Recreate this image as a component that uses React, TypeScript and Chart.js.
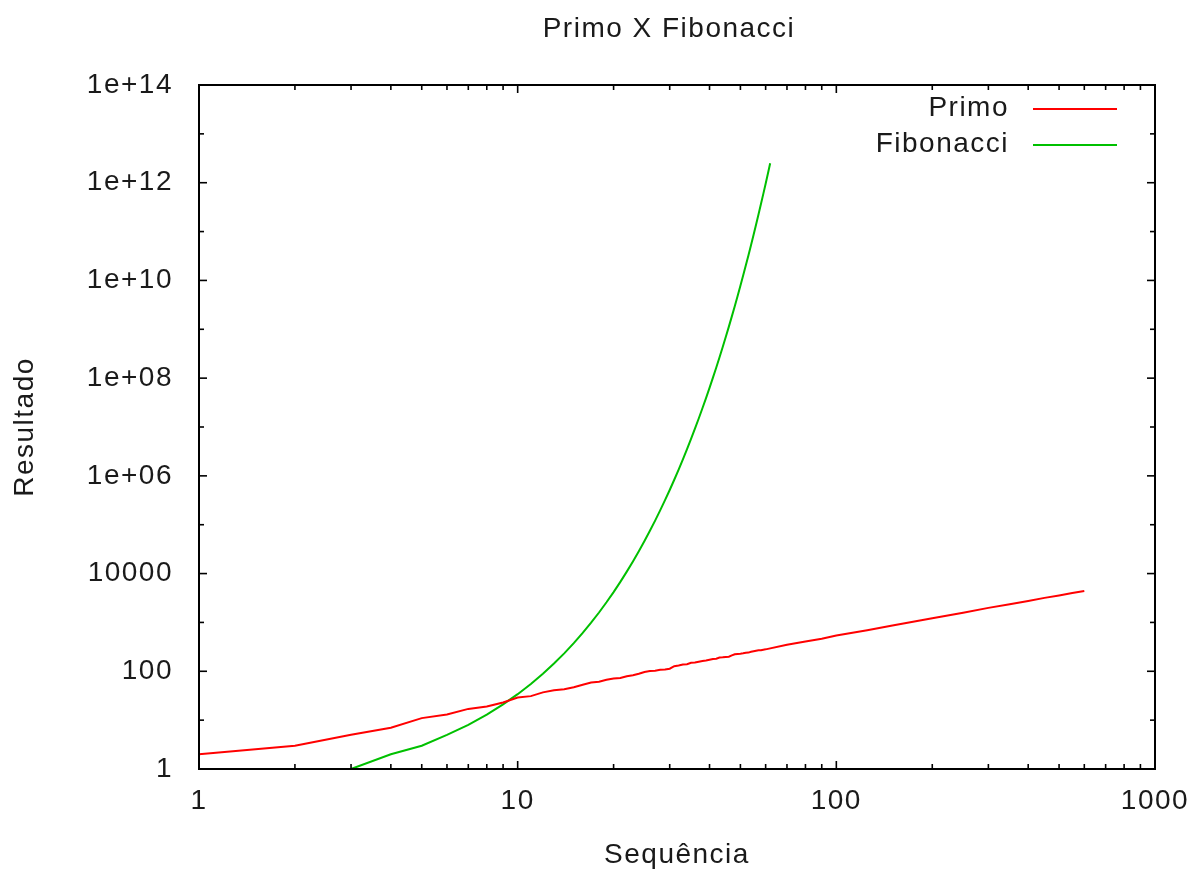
import { useEffect, useRef } from 'react';
import { Chart, registerables } from 'chart.js';

Chart.register(...registerables);

// ---------- data ----------
const chartTitle = 'Primo X Fibonacci';
const xAxisTitle = 'Sequência';
const yAxisTitle = 'Resultado';
const seriesLabels = ['Primo', 'Fibonacci'];
const seriesColors = ['#ff0000', '#00c000'];

const xTickValues = [1, 10, 100, 1000];
const xTickLabels = ['1', '10', '100', '1000'];
const yTickValues = [1, 1e2, 1e4, 1e6, 1e8, 1e10, 1e12, 1e14];
const yTickLabels = ['1', '100', '10000', '1e+06', '1e+08', '1e+10', '1e+12', '1e+14'];

const primoN = [
  1, 2, 3, 4, 5, 6, 7, 8, 9, 10, 11, 12, 13, 14, 15, 16, 17, 18, 19, 20,
  21, 22, 23, 24, 25, 26, 27, 28, 29, 30, 31, 32, 33, 34, 35, 36, 37, 38, 39, 40,
  41, 42, 43, 44, 45, 46, 47, 48, 49, 50, 51, 52, 53, 54, 55, 56, 57, 58, 59, 60,
  70, 80, 90, 100, 125, 150, 200, 250, 300, 350, 400, 450, 500, 550, 600,
];
const primoValues = [
  2, 3, 5, 7, 11, 13, 17, 19, 23, 29, 31, 37, 41, 43, 47, 53, 59, 61, 67, 71,
  73, 79, 83, 89, 97, 101, 103, 107, 109, 113, 127, 131, 137, 139, 149, 151, 157, 163, 167, 173,
  179, 181, 191, 193, 197, 199, 211, 223, 227, 229, 233, 239, 241, 251, 257, 263, 269, 271, 277, 281,
  349, 409, 463, 541, 691, 863, 1223, 1583, 1987, 2357, 2741, 3181, 3571, 3989, 4409,
];

const fibN = [
  3, 4, 5, 6, 7, 8, 9, 10, 11, 12, 13, 14, 15, 16, 17, 18, 19, 20,
  21, 22, 23, 24, 25, 26, 27, 28, 29, 30, 31, 32, 33, 34, 35, 36, 37, 38, 39, 40,
  41, 42, 43, 44, 45, 46, 47, 48, 49, 50, 51, 52, 53, 54, 55, 56, 57, 58, 59, 60,
  61, 62,
];
const fibValues = [
  1, 2, 3, 5, 8, 13, 21, 34, 55, 89, 144, 233, 377, 610, 987, 1597, 2584, 4181,
  6765, 10946, 17711, 28657, 46368, 75025, 121393, 196418, 317811, 514229, 832040,
  1346269, 2178309, 3524578, 5702887, 9227465, 14930352, 24157817, 39088169, 63245986,
  102334155, 165580141, 267914296, 433494437, 701408733, 1134903170, 1836311903,
  2971215073, 4807526976, 7778742049, 12586269025, 20365011074, 32951280099,
  53316291173, 86267571272, 139583862445, 225851433717, 365435296162, 591286729879,
  956722026041, 1548008755920, 2504730781961,
];

// ---------- style ----------
const FONT = "'Liberation Sans', Arial, sans-serif";
const FONT_SIZE = 28;
const TEXT_COLOR = '#1a1a1a';
const LETTER_SPACING = '1.5px';

const setSpacing = (chart: any) => {
  try {
    chart.ctx.letterSpacing = LETTER_SPACING;
  } catch (e) {
    /* ignore */
  }
};

const decorPlugin = {
  id: 'gnuplotDecor',
  beforeLayout(chart: any) {
    setSpacing(chart);
  },
  beforeDraw(chart: any) {
    setSpacing(chart);
    const { ctx } = chart;
    ctx.save();
    ctx.fillStyle = '#ffffff';
    ctx.fillRect(0, 0, chart.width, chart.height);
    ctx.restore();
  },
  afterDatasetsDraw(chart: any) {
    const { ctx, chartArea } = chart;
    const { left, right, top, bottom } = chartArea;
    const xs = chart.scales.x;
    const ys = chart.scales.y;
    ctx.save();
    ctx.strokeStyle = '#000000';
    ctx.lineWidth = 1.6;
    const major = 8;
    const minor = 5;
    const line = (x1: number, y1: number, x2: number, y2: number) => {
      ctx.beginPath();
      ctx.moveTo(x1, y1);
      ctx.lineTo(x2, y2);
      ctx.stroke();
    };
    // x ticks (major + minor), bottom and top
    for (let d = 1; d <= 1000; d *= 10) {
      for (let k = 1; k <= 9; k++) {
        const v = d * k;
        if (v > 1000) break;
        const px = xs.getPixelForValue(v);
        const len = k === 1 ? major : minor;
        line(px, bottom, px, bottom - len);
        line(px, top, px, top + len);
      }
    }
    // y ticks, left and right
    for (let e = 0; e <= 14; e++) {
      const py = ys.getPixelForValue(Math.pow(10, e));
      const len = e % 2 === 0 ? major : minor;
      line(left, py, left + len, py);
      line(right, py, right - len, py);
    }
    // frame
    ctx.lineWidth = 2;
    ctx.strokeRect(left, top, right - left, bottom - top);

    // title
    ctx.fillStyle = TEXT_COLOR;
    ctx.font = `${FONT_SIZE}px ${FONT}`;
    ctx.textAlign = 'center';
    ctx.textBaseline = 'middle';
    ctx.fillText(chartTitle, (left + right) / 2 - 8, 29);

    // legend
    const ds = chart.data.datasets;
    ds.forEach((d: any, i: number) => {
      const y = top + 23 + i * 36;
      ctx.textAlign = 'right';
      ctx.fillStyle = TEXT_COLOR;
      ctx.fillText(d.label, right - 146, y);
      ctx.strokeStyle = d.borderColor;
      ctx.lineWidth = 2;
      line(right - 122, y + 1, right - 38, y + 1);
    });
    ctx.restore();
  },
};

export default function App() {
  const ref = useRef<HTMLCanvasElement | null>(null);

  useEffect(() => {
    if (!ref.current) return;
    const primoData = primoN.map((n, i) => ({ x: n, y: primoValues[i] }));
    const fibData = fibN.map((n, i) => ({ x: n, y: fibValues[i] }));
    const tickFont = { family: FONT, size: FONT_SIZE };

    const chart = new Chart(ref.current, {
      type: 'line',
      data: {
        datasets: [
          {
            label: seriesLabels[0],
            data: primoData,
            borderColor: seriesColors[0],
            backgroundColor: seriesColors[0],
            borderWidth: 2,
            pointRadius: 0,
            tension: 0,
          },
          {
            label: seriesLabels[1],
            data: fibData,
            borderColor: seriesColors[1],
            backgroundColor: seriesColors[1],
            borderWidth: 2,
            pointRadius: 0,
            tension: 0,
          },
        ],
      },
      options: {
        animation: false,
        responsive: false,
        devicePixelRatio: 1,
        layout: { padding: { top: 85, right: 34, left: 0, bottom: 0 } },
        plugins: {
          legend: { display: false },
          title: { display: false },
          tooltip: { enabled: false },
        },
        scales: {
          x: {
            type: 'logarithmic',
            position: 'bottom',
            min: 1,
            max: 1000,
            grid: { display: false, drawTicks: false },
            border: { display: false },
            afterBuildTicks: (s: any) => {
              s.ticks = xTickValues.map((v) => ({ value: v }));
            },
            afterFit: (s: any) => {
              s.height = 103;
              s.paddingLeft = 0;
              s.paddingRight = 0;
            },
            ticks: {
              autoSkip: false,
              maxRotation: 0,
              padding: 15,
              color: TEXT_COLOR,
              font: tickFont,
              callback: (v: any) => {
                const i = xTickValues.indexOf(Number(v));
                return i >= 0 ? xTickLabels[i] : '';
              },
            },
            title: {
              display: true,
              text: xAxisTitle,
              color: TEXT_COLOR,
              font: tickFont,
              padding: { top: 0, bottom: 0 },
            },
          },
          y: {
            type: 'logarithmic',
            position: 'left',
            min: 1,
            max: 1e14,
            grid: { display: false, drawTicks: false },
            border: { display: false },
            afterBuildTicks: (s: any) => {
              s.ticks = yTickValues.map((v) => ({ value: v }));
            },
            afterFit: (s: any) => {
              s.width = 199;
              s.paddingTop = 0;
              s.paddingBottom = 0;
            },
            ticks: {
              autoSkip: false,
              padding: 26,
              color: TEXT_COLOR,
              font: tickFont,
              callback: (v: any) => {
                const i = yTickValues.indexOf(Number(v));
                return i >= 0 ? yTickLabels[i] : '';
              },
            },
            title: {
              display: true,
              text: yAxisTitle,
              color: TEXT_COLOR,
              font: tickFont,
              padding: { top: 8, bottom: 0 },
            },
          },
        },
      } as any,
      plugins: [decorPlugin],
    });
    return () => chart.destroy();
  }, []);

  return (
    <canvas
      ref={ref}
      width={1189}
      height={872}
      style={{ position: 'absolute', left: 0, top: 0, display: 'block' }}
    />
  );
}
